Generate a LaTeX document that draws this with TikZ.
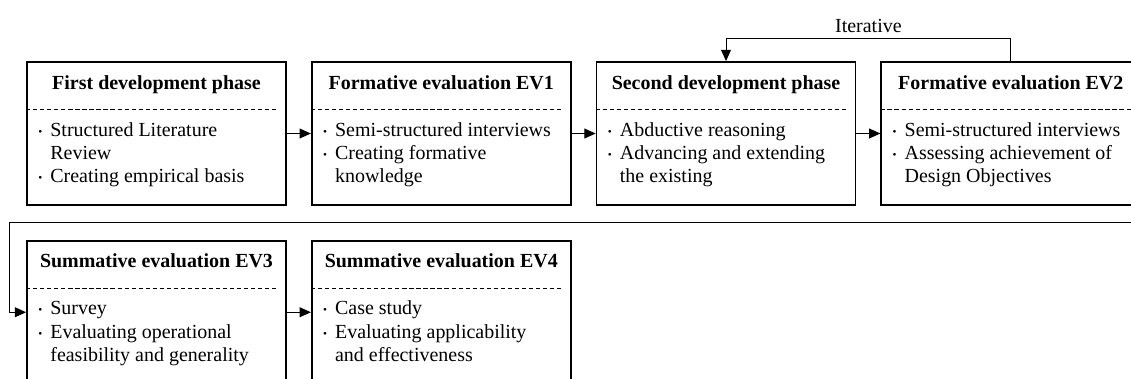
\documentclass[tikz,border=0pt]{standalone}
\usepackage{fontspec}
\setmainfont{Liberation Serif}
\usetikzlibrary{arrows.meta,positioning}

\newcommand{\bul}{\makebox[8.5pt][l]{\raisebox{0.6pt}{\fontsize{8}{8}\selectfont\textbullet}}}
\newcommand{\cont}{\hspace*{8.5pt}}

\tikzset{
  phase/.style={draw, line width=1.2pt, minimum width=6.475cm, minimum height=3.575cm, inner sep=0pt},
  head/.style={anchor=base, font=\fontsize{14.2}{16.6}\selectfont\bfseries, inner sep=0pt},
  items/.style={anchor=base west, align=left, inner sep=0pt},
  sep/.style={dash pattern=on 3pt off 2pt, line width=0.5pt},
  flow/.style={-{Triangle[length=8pt,width=7pt]}, line width=0.7pt}
}

\begin{document}
\begin{tikzpicture}[x=0.025cm, y=-0.025cm, font=\fontsize{14.2}{16.6}\selectfont]
  \useasboundingbox (0,0) rectangle (1131,378);
  \clip (0,0) rectangle (1131,378);

  % phases
  \node[phase] (p1) at (156.5,133.5) {};
  \node[phase, right=0.6cm of p1] (p2) {};
  \node[phase, right=0.6cm of p2] (p3) {};
  \node[phase, right=0.6cm of p3] (p4) {};
  \node[phase, below=0.85cm of p1] (p5) {};
  \node[phase, right=0.6cm of p5] (p6) {};

  % titles
  \node[head] (t1) at ([yshift=-0.7cm]p1.north) {First development phase};
  \node[head] (t2) at ([yshift=-0.7cm]p2.north) {Formative evaluation EV1};
  \node[head] (t3) at ([yshift=-0.7cm]p3.north) {Second development phase};
  \node[head] (t4) at ([yshift=-0.7cm]p4.north) {Formative evaluation EV2};
  \node[head] (t5) at ([yshift=-0.7cm]p5.north) {Summative evaluation EV3};
  \node[head] (t6) at ([yshift=-0.7cm]p6.north) {Summative evaluation EV4};

  % dashed separators
  \foreach \p in {p1,p2,p3,p4,p5,p6}
    \draw[sep] ([yshift=-1.2cm]\p.north west) -- ([xshift=-0.225cm,yshift=-1.2cm]\p.north east);

  % bullet lists (base = last line)
  \node[items] (l1) at ([xshift=0.3cm,yshift=-3.04cm]p1.north west)
    {\bul Structured Literature\\ \cont Review\\ \bul Creating empirical basis};
  \node[items] (l2) at ([xshift=0.3cm,yshift=-3.04cm]p2.north west)
    {\bul Semi-structured interviews\\ \bul Creating formative\\ \cont knowledge};
  \node[items] (l3) at ([xshift=0.3cm,yshift=-3.04cm]p3.north west)
    {\bul Abductive reasoning\\ \bul Advancing and extending\\ \cont the existing};
  \node[items] (l4) at ([xshift=0.3cm,yshift=-3.04cm]p4.north west)
    {\bul Semi-structured interviews\\ \bul Assessing achievement of\\ \cont Design Objectives};
  \node[items] (l5) at ([xshift=0.3cm,yshift=-3.04cm]p5.north west)
    {\bul Survey\\ \bul Evaluating operational\\ \cont feasibility and generality};
  \node[items] (l6) at ([xshift=0.3cm,yshift=-3.04cm]p6.north west)
    {\bul Case study\\ \bul Evaluating applicability\\ \cont and effectiveness};

  % flow
  \draw[flow] (p1) -- (p2);
  \draw[flow] (p2) -- (p3);
  \draw[flow] (p3) -- (p4);
  \draw[flow] (p5) -- (p6);
  \draw[flow] (p4.north) -- ++(0,-23) -| node[pos=0.25, above] (it) {Iterative} (p3.north);

  % back to second row
  \coordinate (back) at (9,222);
  \draw[flow] (p4.east) -- ++(10,0) |- (back) |- (p5.west);
\end{tikzpicture}
\end{document}
